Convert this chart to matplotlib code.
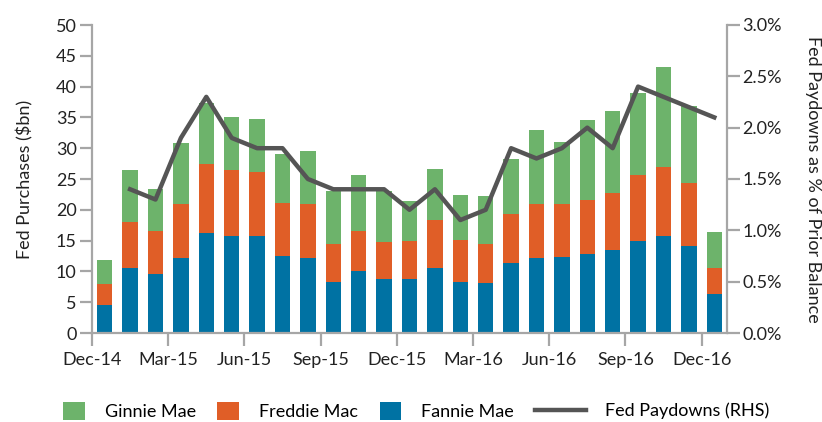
import numpy as np
import matplotlib.pyplot as plt

plt.rcParams['font.family'] = ['Lato', 'DejaVu Sans']

months = ['Dec-14', 'Jan-15', 'Feb-15', 'Mar-15', 'Apr-15', 'May-15', 'Jun-15',
          'Jul-15', 'Aug-15', 'Sep-15', 'Oct-15', 'Nov-15', 'Dec-15', 'Jan-16',
          'Feb-16', 'Mar-16', 'Apr-16', 'May-16', 'Jun-16', 'Jul-16', 'Aug-16',
          'Sep-16', 'Oct-16', 'Nov-16', 'Dec-16']
# Fed purchases ($bn)
fannie = [4.5, 10.5, 9.5, 12.1, 16.2, 15.7, 15.7, 12.5, 12.1, 8.2, 10.1, 8.7,
          8.8, 10.5, 8.2, 8.1, 11.3, 12.2, 12.4, 12.8, 13.5, 15.0, 15.8, 14.1, 6.3]
freddie = [3.5, 7.5, 7.0, 8.8, 11.3, 10.7, 10.4, 8.6, 8.9, 6.2, 6.5, 6.0,
           6.1, 7.9, 6.9, 6.4, 8.0, 8.8, 8.5, 8.8, 9.3, 10.7, 11.2, 10.2, 4.2]
ginnie = [3.9, 8.5, 6.9, 10.0, 9.9, 8.6, 8.7, 8.0, 8.6, 8.6, 9.1, 8.3,
          6.6, 8.2, 7.3, 7.7, 8.9, 11.9, 10.1, 13.0, 13.3, 13.2, 16.2, 12.6, 5.9]
# Fed paydowns as % of prior balance (starts Jan-15)
paydowns = [np.nan, 1.4, 1.3, 1.9, 2.3, 1.9, 1.8, 1.8, 1.5, 1.4, 1.4, 1.4,
            1.2, 1.4, 1.1, 1.2, 1.8, 1.7, 1.8, 2.0, 1.8, 2.4, 2.3, 2.2, 2.1]

tick_labels = ['Dec-14', 'Mar-15', 'Jun-15', 'Sep-15', 'Dec-15', 'Mar-16',
               'Jun-16', 'Sep-16', 'Dec-16']

green = '#6db36b'
orange = '#e05e27'
blue = '#0072a3'
grey = '#a6a6a6'
fs = 13

x = np.arange(len(months))
fannie = np.array(fannie)
freddie = np.array(freddie)
ginnie = np.array(ginnie)

fig = plt.figure(figsize=(8.22, 4.22), dpi=100)
ax = fig.add_axes([92 / 822, 1 - 333 / 422, 635 / 822, 308 / 422])
ax2 = ax.twinx()

w = 0.6
ax.bar(x, fannie, w, color=blue, label='Fannie Mae')
ax.bar(x, freddie, w, bottom=fannie, color=orange, label='Freddie Mac')
ax.bar(x, ginnie, w, bottom=fannie + freddie, color=green, label='Ginnie Mae')

ax2.plot(x, paydowns, color='#555555', lw=3.2, label='Fed Paydowns (RHS)')

ax.set_xlim(-0.5, len(months) - 0.5)
ax.set_ylim(0, 50)
ax.set_yticks(np.arange(0, 51, 5))
ax2.set_ylim(0, 3.0)
ax2.set_yticks(np.arange(0, 3.01, 0.5))
ax2.set_yticklabels(['%.1f%%' % v for v in np.arange(0, 3.01, 0.5)])

ax.set_xticks(np.arange(-0.5, len(months), 3))
ax.set_xticklabels(tick_labels)

for a in (ax, ax2):
    a.spines['top'].set_visible(False)
    for s in ['left', 'right', 'bottom']:
        a.spines[s].set_color(grey)
        a.spines[s].set_linewidth(1.6)
    a.tick_params(colors=grey, width=1.6, length=9, labelsize=fs,
                  labelcolor='#222222')
ax.spines['right'].set_visible(False)
ax2.spines['left'].set_visible(False)
ax2.spines['bottom'].set_visible(False)
ax.tick_params(axis='x', pad=5)
ax.tick_params(axis='y', pad=2)
ax2.tick_params(axis='y', pad=2)

ax.set_ylabel('Fed Purchases ($bn)', fontsize=fs, color='#222222', labelpad=16)
ax2.set_ylabel('Fed Paydowns as % of Prior Balance', fontsize=fs,
               color='#222222', rotation=-90, labelpad=28)

# legend: squares for the bars, a longer stroke for the line
h1, l1 = ax.get_legend_handles_labels()
h2, l2 = ax2.get_legend_handles_labels()
leg1 = fig.legend([h1[2], h1[1], h1[0]], [l1[2], l1[1], l1[0]],
                  loc='center left', bbox_to_anchor=(63 / 822, 11 / 422),
                  ncol=3, frameon=False, fontsize=fs, borderpad=0,
                  borderaxespad=0, handlelength=1.2, handleheight=1.2,
                  columnspacing=1.2, handletextpad=1.1)
fig.legend(h2, l2, loc='center left', bbox_to_anchor=(535 / 822, 11 / 422),
           frameon=False, fontsize=fs, borderpad=0, borderaxespad=0,
           handlelength=2.8, handletextpad=1.1)

fig.savefig('out.png', dpi=100)
